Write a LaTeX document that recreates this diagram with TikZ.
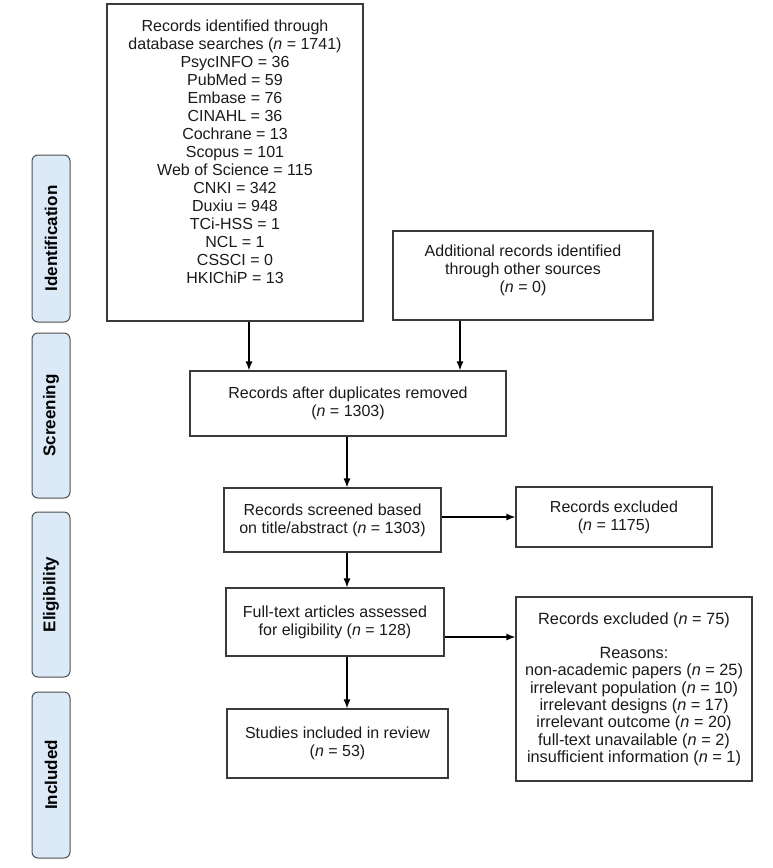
\documentclass[tikz,border=0pt]{standalone}
\usepackage{fontspec}
\setmainfont{Liberation Sans}
\usetikzlibrary{arrows.meta}
\definecolor{boxgray}{HTML}{3A3A3A}
\definecolor{labelfill}{HTML}{DCE9F7}
\definecolor{labeldraw}{HTML}{505050}
\definecolor{textgray}{HTML}{1A1A1A}
\begin{document}
\begin{tikzpicture}[x=1pt,y=-1pt,
  box/.style={draw=boxgray, line width=1.2pt, inner sep=0pt, align=center,
    text=textgray, font=\fontsize{16}{18}\selectfont},
  txt/.style={inner sep=0pt, align=center, text=textgray,
    font=\fontsize{16}{18}\selectfont},
  side/.style={draw=labeldraw, fill=labelfill, line width=1pt, rounded corners=6pt,
    rotate=90, inner sep=0pt, minimum height=38pt,
    font=\fontsize{17}{18}\selectfont\bfseries},
  arr/.style={draw=black, line width=1.2pt, -{Latex[length=9pt,width=7pt]}}]
\useasboundingbox (0,0) rectangle (772,868);

% phase labels
\node[side, minimum width=167pt] (sid) at (51,238.5) {Identification};
\node[side, minimum width=165pt] (ssc) at (51,415.5) {Screening};
\node[side, minimum width=165pt] (sel) at (51,594.5) {Eligibility};
\node[side, minimum width=166pt] (sin) at (51,775) {Included};

% boxes
\node[box, minimum width=256pt, minimum height=317pt] (b1) at (235,162.5) {};
\node[txt] (b1t) at (235,152) {Records identified through\\
  database searches (\textit{n} = 1741)\\
  PsycINFO = 36\\ PubMed = 59\\ Embase = 76\\ CINAHL = 36\\ Cochrane = 13\\
  Scopus = 101\\ Web of Science = 115\\ CNKI = 342\\ Duxiu = 948\\
  TCi-HSS = 1\\ NCL = 1\\ CSSCI = 0\\ HKIChiP = 13};

\node[box, minimum width=260pt, minimum height=89pt] (b2) at (523,275.5) {};
\node[txt] (b2t) at (523,270) {Additional records identified\\
  through other sources\\ (\textit{n} = 0)};

\node[box, minimum width=316pt, minimum height=65pt] (dup) at (348,403.5)
  {Records after duplicates removed\\ (\textit{n} = 1303)};
\node[box, minimum width=217pt, minimum height=64pt] (scr) at (332.5,520)
  {Records screened based\\ on title/abstract (\textit{n} = 1303)};
\node[box, minimum width=196pt, minimum height=60pt] (ex1) at (614,517)
  {Records excluded\\ (\textit{n} = 1175)};
\node[box, minimum width=218pt, minimum height=68pt] (ft) at (335,622)
  {Full-text articles assessed\\ for eligibility (\textit{n} = 128)};
\node[box, minimum width=221pt, minimum height=69pt] (st) at (337.5,743.5)
  {Studies included in review\\ (\textit{n} = 53)};
\node[box, minimum width=236pt, minimum height=184pt,
  font=\fontsize{16.3}{17.3}\selectfont] (ex2) at (634,689)
  {Records excluded (\textit{n} = 75)\\[17.3pt]
   Reasons:\\
   non-academic papers (\textit{n} = 25)\\
   irrelevant population (\textit{n} = 10)\\
   irrelevant designs (\textit{n} = 17)\\
   irrelevant outcome (\textit{n} = 20)\\
   full-text unavailable (\textit{n} = 2)\\
   insufficient information (\textit{n} = 1)};

% connector guide coordinates
\coordinate (c1) at (249,0);
\coordinate (c2) at (460,0);
\coordinate (cm) at (347,0);
\coordinate (r1) at (0,517);
\coordinate (r2) at (0,637);

\draw[arr] (b1.south -| c1) -- (dup.north -| c1);
\draw[arr] (b2.south -| c2) -- (dup.north -| c2);
\draw[arr] (dup.south -| cm) -- (scr.north -| cm);
\draw[arr] (scr.east |- r1) -- (ex1.west |- r1);
\draw[arr] (scr.south -| cm) -- (ft.north -| cm);
\draw[arr] (ft.east |- r2) -- (ex2.west |- r2);
\draw[arr] (ft.south -| cm) -- (st.north -| cm);
\end{tikzpicture}
\end{document}
